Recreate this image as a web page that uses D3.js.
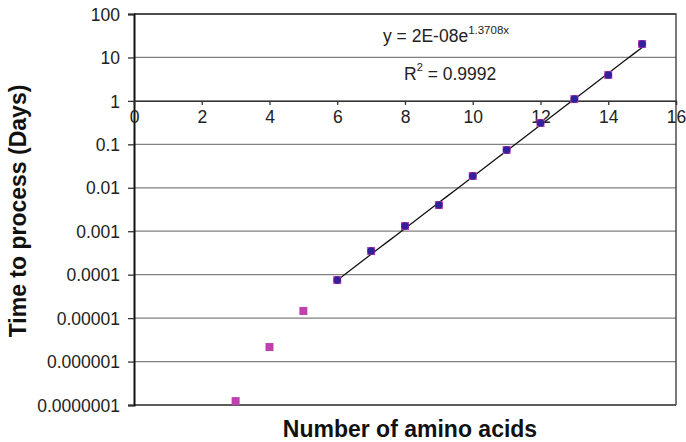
<!DOCTYPE html>
<html>
<head>
<meta charset="utf-8">
<script src="https://cdn.jsdelivr.net/npm/d3@7"></script>
<style>
  body { margin: 0; background: #fff; }
  svg { font-family: "Liberation Sans", Arial, sans-serif; }
</style>
</head>
<body>
<svg id="chart" width="686" height="442"></svg>
<script>
// amino acid counts and measured processing times (days)
const aminoAcids = [3, 4, 5, 6, 7, 8, 9, 10, 11, 12, 13, 14, 15];
const timeDays = [1.23e-7, 2.16e-6, 1.46e-5, 7.5e-5, 3.5e-4, 1.32e-3, 4.0e-3, 0.0187, 0.074, 0.31, 1.1, 3.95, 20.4];
// points used for the exponential fit
const fitAcids = [6, 7, 8, 9, 10, 11, 12, 13, 14, 15];
const fitA = 2e-8, fitB = 1.3708;
const yTicks = [100, 10, 1, 0.1, 0.01, 0.001, 0.0001, 0.00001, 0.000001, 0.0000001];
const yTickLabels = ["100", "10", "1", "0.1", "0.01", "0.001", "0.0001", "0.00001", "0.000001", "0.0000001"];
const xTicks = [0, 2, 4, 6, 8, 10, 12, 14, 16];

const margin = {left: 134, right: 10, top: 14, bottom: 37};
const width = 686, height = 442;

const svg = d3.select("#chart");

const x = d3.scaleLinear().domain([0, 16]).range([margin.left, width - margin.right]);
const y = d3.scaleLog().domain([1e-7, 100]).range([height - margin.bottom, margin.top]);

// horizontal gridlines
svg.append("g")
    .selectAll("line")
    .data(yTicks)
    .join("line")
    .attr("x1", margin.left)
    .attr("x2", x(16))
    .attr("y1", d => y(d))
    .attr("y2", d => y(d))
    .attr("stroke", "#808080")
    .attr("stroke-width", 1.3);

// top and right frame
svg.append("path")
    .attr("d", `M${margin.left},${y(100)}H${x(16)}V${y(1e-7)}`)
    .attr("fill", "none")
    .attr("stroke", "#333")
    .attr("stroke-width", 1.3);

svg.append("line")
    .attr("x1", margin.left).attr("x2", x(16))
    .attr("y1", y(1e-7)).attr("y2", y(1e-7))
    .attr("stroke", "#444").attr("stroke-width", 1.5);

// y axis
const yAxis = svg.append("g")
    .attr("transform", `translate(${margin.left},0)`)
    .call(d3.axisLeft(y).tickValues(yTicks).tickFormat((d, i) => yTickLabels[i]).tickSizeOuter(0).tickSize(6).tickPadding(8));
yAxis.select(".domain").attr("stroke", "#111").attr("stroke-width", 2);
yAxis.selectAll(".tick line").attr("stroke", "#333").attr("stroke-width", 1.3);
yAxis.selectAll("text").attr("font-size", 17.5).attr("fill", "#222").attr("dy", "0.35em")
    .attr("font-family", "Liberation Sans, Arial, sans-serif");

// x axis crossing at y = 1
const xAxis = svg.append("g")
    .attr("transform", `translate(0,${y(1)})`)
    .call(d3.axisBottom(x).tickValues(xTicks).tickSizeOuter(0).tickSize(4).tickPadding(6));
xAxis.select(".domain").attr("stroke", "#333").attr("stroke-width", 1.3);
xAxis.selectAll(".tick line").attr("stroke", "#333").attr("stroke-width", 1.3);
xAxis.selectAll("text").attr("font-size", 17.5).attr("fill", "#222")
    .attr("font-family", "Liberation Sans, Arial, sans-serif");

// trendline
const line = d3.line()
    .x(d => x(d))
    .y(d => y(fitA * Math.exp(fitB * d)));
const lineX = d3.range(6, 15.001, 0.25);
svg.append("path")
    .datum(lineX)
    .attr("d", line)
    .attr("fill", "none")
    .attr("stroke", "#111")
    .attr("stroke-width", 1.3);

// all data as magenta squares
svg.append("g")
    .selectAll("rect")
    .data(aminoAcids)
    .join("rect")
    .attr("x", d => x(d) - 4)
    .attr("y", (d, i) => y(timeDays[i]) - 4)
    .attr("width", 8)
    .attr("height", 8)
    .attr("fill", "#c040b0");

// fitted series as dark blue dots
svg.append("g")
    .selectAll("circle")
    .data(fitAcids)
    .join("circle")
    .attr("cx", d => x(d))
    .attr("cy", d => y(timeDays[aminoAcids.indexOf(d)]))
    .attr("r", 3.8)
    .attr("fill", "#34209a");

// equation
const eq = svg.append("text")
    .attr("x", 383).attr("y", 42)
    .attr("font-size", 17.5).attr("fill", "#222");
eq.append("tspan").text("y = 2E-08e");
eq.append("tspan").attr("font-size", 11.5).attr("dy", -8).text("1.3708x");

const r2 = svg.append("text")
    .attr("x", 404).attr("y", 80)
    .attr("font-size", 17.5).attr("fill", "#222");
r2.append("tspan").text("R");
r2.append("tspan").attr("font-size", 11).attr("dy", -9).text("2");
r2.append("tspan").attr("dy", 9).text(" = 0.9992");

// axis titles
svg.append("text")
    .attr("x", 410).attr("y", 437)
    .attr("text-anchor", "middle")
    .attr("font-size", 23).attr("font-weight", "bold").attr("fill", "#111")
    .text("Number of amino acids");

svg.append("text")
    .attr("transform", "translate(26,211) rotate(-90)")
    .attr("text-anchor", "middle")
    .attr("font-size", 23).attr("font-weight", "bold").attr("fill", "#111")
    .text("Time to process (Days)");
</script>
</body>
</html>
